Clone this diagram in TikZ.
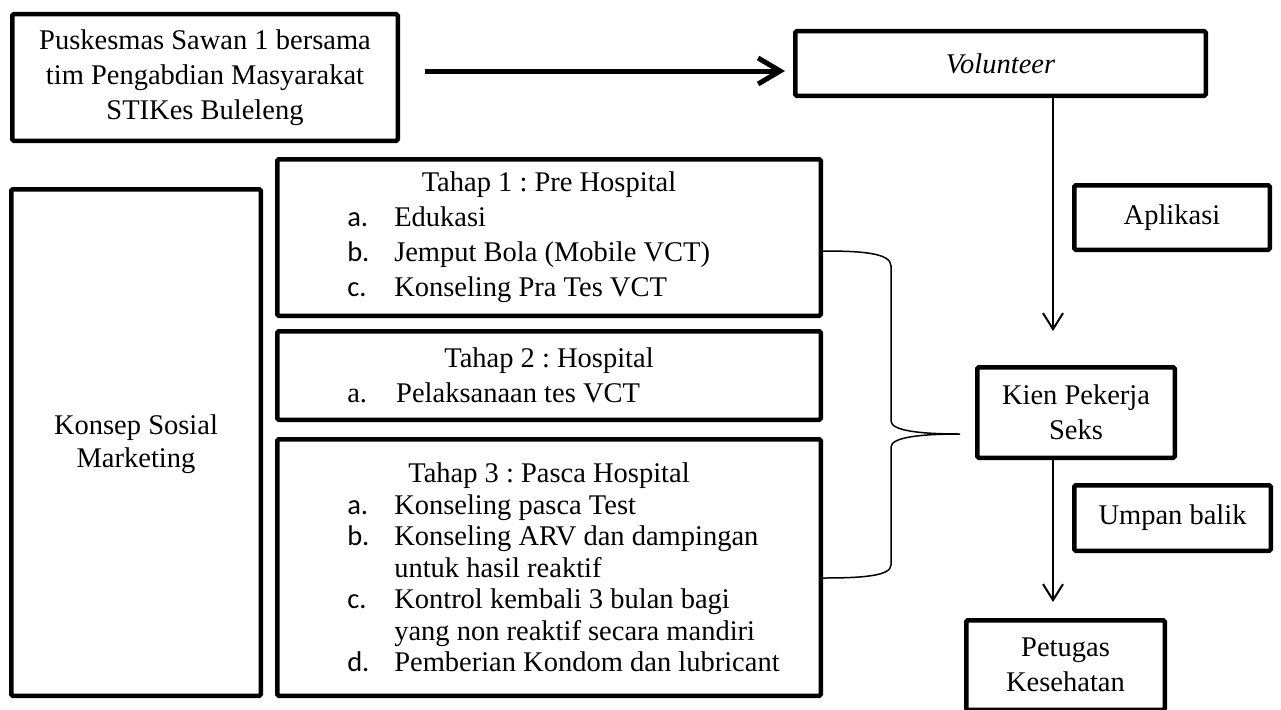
\documentclass[tikz,border=0pt]{standalone}
\usepackage{fontspec}
\setmainfont{Liberation Serif}
\newfontfamily\lblfont{Carlito}
\usetikzlibrary{arrows.meta}

% list line: label column and item text
\newcommand{\itm}[2]{\hspace*{70pt}\makebox[47pt][l]{\lblfont #1}#2}
\newcommand{\itmrm}[2]{\hspace*{70pt}\makebox[49pt][l]{#1}#2}
\newcommand{\cont}[1]{\hspace*{117pt}#1}
\newcommand{\plainspaces}{\frenchspacing\spaceskip=0pt\xspaceskip=0pt}

\begin{document}
\begin{tikzpicture}[x=1pt,y=-1pt,
        box/.style={rectangle,draw=black,line width=4.5pt,rounded corners=1.5pt,
          inner sep=0pt,align=center,font=\fontsize{28.5}{35}\selectfont},
        list/.style={box,align=left,text width=543.5pt},
        bigarrow/.style={line width=5pt,-{Straight Barb[length=22pt,width=26pt]}},
        thinarrow/.style={line width=2pt,-{Straight Barb[length=16pt,width=20pt]}}]
      \useasboundingbox (0,0) rectangle (1281,709);
      \node (pusk) at (205,77.5) [box,minimum width=385.5,minimum height=126.5]
        {Puskesmas Sawan 1 bersama\\tim Pengabdian Masyarakat\\STIKes Buleleng};
      \node (vol) at (1000.5,63.5) [box,minimum width=410.5,minimum height=64.5] {\itshape Volunteer};
      \node (app) at (1172,217.5) [box,minimum width=195.5,minimum height=64.5] {Aplikasi};
      \node (kien) at (1076,412.5) [box,minimum width=197.5,minimum height=90.5] {Kien Pekerja\\Seks};
      \node (umpan) at (1172.5,518) [box,minimum width=196.5,minimum height=65.5] {Umpan balik};
      \node (petugas) at (1065.5,665) [box,minimum width=198.5,minimum height=89.5] {Petugas\\Kesehatan};
      \node (konsep) at (136,442.5) [box,minimum width=249.5,minimum height=506.5,
        font=\fontsize{28.5}{33}\selectfont] {\\[-10pt]Konsep Sosial\\Marketing};
      \node (t1) at (549,237.5) [list,minimum height=156.5] {\plainspaces
        \centering Tahap 1 : Pre Hospital\par\raggedright
        \itm{a.}{Edukasi}\\
        \itm{b.}{Jemput Bola (Mobile VCT)}\\
        \itm{c.}{Konseling Pra Tes VCT}};
      \node (t2) at (549,375.5) [list,minimum height=88.5] {\plainspaces
        \centering Tahap 2 : Hospital\par\raggedright
        \itmrm{a.}{Pelaksanaan tes VCT}};
      \node (t3) at (549,567.5) [list,minimum height=256.5,font=\fontsize{28.5}{31.5}\selectfont] {\plainspaces
        \centering Tahap 3 : Pasca Hospital\par\raggedright
        \itm{a.}{Konseling pasca Test}\\
        \itm{b.}{Konseling ARV dan dampingan}\\
        \cont{untuk hasil reaktif}\\
        \itm{c.}{Kontrol kembali 3 bulan bagi}\\
        \cont{yang non reaktif secara mandiri}\\
        \itm{d.}{Pemberian Kondom dan lubricant}};
      \coordinate (vline) at (1053,0);
      \draw[bigarrow,shorten <=25pt,shorten >=8pt]
        ([yshift=6.5pt]pusk.east) -- ([yshift=6.5pt]pusk.east -| vol.west);
      \draw[thinarrow,shorten >=34pt] (vline |- vol.south) -- (vline |- kien.north);
      \draw[thinarrow,shorten >=16pt] (vline |- kien.south) -- (vline |- petugas.north);
      \draw[line width=1.5pt] (823,251) .. controls (862,251) and (891,253) .. (891,266)
        -- (891,421) .. controls (891,431) and (922,434) .. (960,434)
        .. controls (922,434) and (891,437) .. (891,447)
        -- (891,565) .. controls (891,576) and (862,578) .. (823,578);
\end{tikzpicture}
\end{document}
